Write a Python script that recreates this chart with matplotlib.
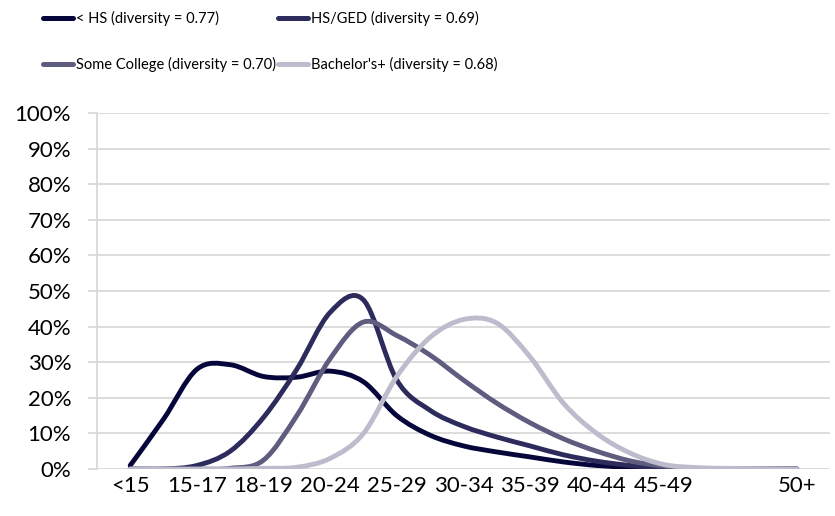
import numpy as np
import matplotlib.pyplot as plt
from matplotlib.path import Path
from matplotlib.patches import PathPatch
from matplotlib.lines import Line2D

plt.rcParams['font.family'] = ['Lato', 'DejaVu Sans']

age_groups = ['<15', '15-17', '18-19', '20-24', '25-29', '30-34', '35-39',
              '40-44', '45-49', '', '50+']

# share of births (%) read at each age group and half way between groups
less_hs = [1, 14, 28, 29.3, 26, 25.8, 27.5, 24.5, 15, 9.5, 6.5, 4.8, 3.4,
           2, 1, 0.5, 0.2, 0.1, 0, 0, 0]
hs_ged = [0, 0, 1, 5, 14.5, 28, 44, 47.5, 25, 16.5, 12, 9, 6.5, 4, 2.2,
          1, 0.3, 0.1, 0, 0, 0]
some_college = [0, 0, 0, 0.2, 2.5, 15, 31, 41.3, 37.5, 32, 25, 18.5, 13, 8.5,
                5, 2.3, 0.8, 0.2, 0, 0, 0]
bachelors = [0, 0, 0, 0, 0.2, 0.5, 3, 10, 26, 37, 42, 41, 31.5, 18.5, 10,
             4.5, 1.3, 0.4, 0.2, 0.1, 0]

labels = ['< HS (diversity = 0.77)', 'HS/GED (diversity = 0.69)',
          'Some College (diversity = 0.70)', "Bachelor's+ (diversity = 0.68)"]
colors = ['#07063a', '#2c2b5c', '#5e5d80', '#bdbccc']


def smooth_path(x, y):
    # catmull-rom style bezier, like the smoothed lines of a spreadsheet
    pts = np.column_stack([x, y])
    ext = np.vstack([pts[0], pts, pts[-1]])
    verts = [pts[0]]
    codes = [Path.MOVETO]
    for i in range(len(pts) - 1):
        p0, p1, p2, p3 = ext[i], ext[i + 1], ext[i + 2], ext[i + 3]
        verts += [p1 + (p2 - p0) / 6, p2 - (p3 - p1) / 6, p2]
        codes += [Path.CURVE4] * 3
    return Path(verts, codes)


fig = plt.figure(figsize=(8.35, 5.16), dpi=100)
ax = fig.add_axes([0.116, 0.091, 0.878, 0.690])

x = np.arange(len(less_hs)) / 2
series = [less_hs, hs_ged, some_college, bachelors]
for vals, col in zip(series, colors):
    patch = PathPatch(smooth_path(x, np.array(vals) / 100), facecolor='none',
                      edgecolor=col, lw=3.5, capstyle='round', joinstyle='round')
    ax.add_patch(patch)

ax.set_xlim(-0.5, len(age_groups) - 0.5)
ax.set_ylim(0, 1)
ax.set_xticks(range(len(age_groups)))
ax.set_xticklabels(age_groups)
ax.set_yticks(np.arange(0, 1.01, 0.1))
ax.set_yticklabels([f'{int(round(v * 100))}%' for v in np.arange(0, 1.01, 0.1)])
ax.grid(axis='y', color='#d9d9d9', lw=1.3)
ax.set_axisbelow(True)
for s in ['top', 'right', 'bottom']:
    ax.spines[s].set_visible(False)
ax.spines['left'].set_color('#d9d9d9')
ax.spines['left'].set_linewidth(1.3)
ax.tick_params(axis='y', length=6.5, width=1.3, color='#d9d9d9', pad=12,
               labelsize=16, labelcolor='black')
ax.tick_params(axis='x', length=0, pad=5, labelsize=16, labelcolor='black')

# legend filled row by row like the original
order = [0, 2, 1, 3]
handles = [Line2D([], [], color=colors[i], lw=3.6, solid_capstyle='round')
           for i in order]
fig.legend(handles, [labels[i] for i in order], loc='upper left',
           bbox_to_anchor=(43 / 835, 1 - 11 / 516), ncol=2, frameon=False,
           fontsize=10.5, handlelength=2.05, handletextpad=0.2,
           columnspacing=0.15, labelspacing=2.15, borderpad=0,
           borderaxespad=0)

fig.savefig('out.png', dpi=100)
